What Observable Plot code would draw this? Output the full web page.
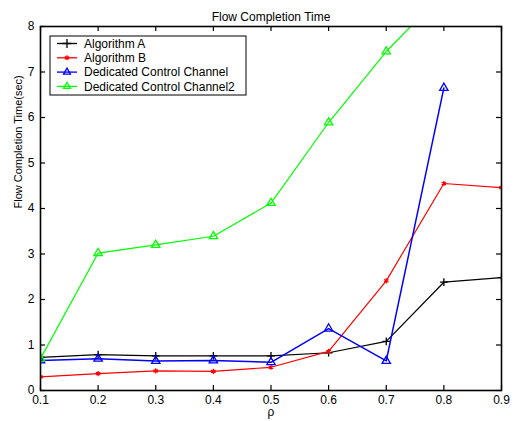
<!DOCTYPE html>
<html>
<head>
<meta charset="utf-8">
<script src="https://cdn.jsdelivr.net/npm/d3@7"></script>
<script src="https://cdn.jsdelivr.net/npm/@observablehq/plot@0.6"></script>
<style>
  body { margin: 0; background: #fff; }
  #chart svg { display: block; }
</style>
</head>
<body>
<div id="chart"></div>
<script>
// Load factor values on the x axis
const rho = [0.1, 0.2, 0.3, 0.4, 0.5, 0.6, 0.7, 0.8, 0.9];

// Flow completion time (sec) per scheme
const algorithmA = [0.73, 0.79, 0.76, 0.76, 0.76, 0.83, 1.08, 2.38, 2.48];
const algorithmB = [0.30, 0.37, 0.43, 0.42, 0.51, 0.86, 2.41, 4.55, 4.46];
const dedicated = [0.66, 0.70, 0.65, 0.66, 0.62, 1.36, 0.65, 6.65];
const dedicated2 = [0.70, 3.02, 3.20, 3.39, 4.12, 5.89, 7.45, 8.75];

const seriesNames = ["Algorithm A", "Algorithm B", "Dedicated Control Channel", "Dedicated Control Channel2"];
const seriesValues = [algorithmA, algorithmB, dedicated, dedicated2];
const seriesColors = ["#000000", "#ff0000", "#0000ff", "#00ff00"];
const seriesSymbols = ["plus", "asterisk", "triangle", "triangle"];

const xTicks = [0.1, 0.2, 0.3, 0.4, 0.5, 0.6, 0.7, 0.8, 0.9];
const yTicks = [0, 1, 2, 3, 4, 5, 6, 7, 8];

const rows = seriesNames.flatMap((name, i) =>
  seriesValues[i].map((v, j) => ({series: name, rho: rho[j], time: v}))
);

const W = 515, H = 421;
const M = {top: 26, right: 14, bottom: 31, left: 40};
const innerW = W - M.left - M.right;
const innerH = H - M.top - M.bottom;
const tickLen = 5;
const font = "Liberation Sans, Arial, Helvetica, sans-serif";

const marks = [
  // inward-facing ticks on all four sides
  Plot.tickX(xTicks, {x: d => d, insetTop: innerH - tickLen, strokeWidth: 1.2}),
  Plot.tickX(xTicks, {x: d => d, insetBottom: innerH - tickLen, strokeWidth: 1.2}),
  Plot.tickY(yTicks, {y: d => d, insetRight: innerW - tickLen, strokeWidth: 1.2}),
  Plot.tickY(yTicks, {y: d => d, insetLeft: innerW - tickLen, strokeWidth: 1.2}),
  Plot.axisX({ticks: xTicks, tickSize: 0, tickPadding: 5, tickFormat: d => d3.format(".1f")(d),
    label: null, fontSize: 12}),
  Plot.axisY({ticks: yTicks, tickSize: 0, tickPadding: 6, tickFormat: d => String(d),
    label: null, fontSize: 12}),
  // axis titles
  Plot.text(["ρ"], {frameAnchor: "bottom", dy: 25, fontSize: 12, fill: "#000"}),
  Plot.text(["Flow Completion Time(sec)"], {frameAnchor: "left", dx: -22, rotate: -90, fontSize: 11, fill: "#000"}),
];

seriesNames.forEach((name, i) => {
  const data = rows.filter(r => r.series === name);
  marks.push(Plot.line(data, {x: "rho", y: "time", stroke: seriesColors[i],
    strokeWidth: i === 2 ? 1.5 : 1.2, clip: true}));
  marks.push(Plot.dot(data, {x: "rho", y: "time", symbol: () => seriesSymbols[i],
    stroke: seriesColors[i], fill: i === 1 ? seriesColors[i] : "none",
    r: i === 1 ? 2.4 : (i === 0 ? 2.6 : 3.1), strokeWidth: 1.3, clip: true}));
});

marks.push(Plot.frame({stroke: "#000", strokeWidth: 1.6}));
marks.push(Plot.text(["Flow Completion Time"], {frameAnchor: "top", dy: -14, fontSize: 12, fill: "#000"}));

const chart = Plot.plot({
  width: W,
  height: H,
  marginTop: M.top,
  marginRight: M.right,
  marginBottom: M.bottom,
  marginLeft: M.left,
  style: {fontFamily: font, fontSize: "12px", color: "#000", background: "#fff"},
  x: {domain: [0.1, 0.9]},
  y: {domain: [0, 8]},
  symbol: {type: "identity"},
  marks
});

document.getElementById("chart").append(chart);

// Legend box in the upper-left corner of the plot area
const svg = d3.select(chart.tagName.toLowerCase() === "svg" ? chart : chart.querySelector("svg"));
const lg = svg.append("g").attr("font-family", font).attr("font-size", 12).attr("text-anchor", "start");
lg.append("rect").attr("x", 50).attr("y", 36).attr("width", 196).attr("height", 59)
  .attr("fill", "#fff").attr("stroke", "#000").attr("stroke-width", 1);
const symbolTypes = {plus: d3.symbolPlus, asterisk: d3.symbolAsterisk, triangle: d3.symbolTriangle2};
seriesNames.forEach((name, i) => {
  const y = 43.5 + i * 14.3;
  const g = lg.append("g");
  g.append("line").attr("x1", 57).attr("x2", 77).attr("y1", y).attr("y2", y)
    .attr("stroke", seriesColors[i]).attr("stroke-width", 1.3);
  const size = i === 1 ? 18 : (i === 0 ? 28 : 34);
  g.append("path").attr("transform", `translate(67,${y})`)
    .attr("d", d3.symbol(symbolTypes[seriesSymbols[i]], size)())
    .attr("fill", i === 1 ? seriesColors[i] : "none")
    .attr("stroke", seriesColors[i]).attr("stroke-width", 1.3);
  g.append("text").attr("x", 84).attr("y", y).attr("dy", "0.35em").attr("fill", "#000").text(name);
});
</script>
</body>
</html>
